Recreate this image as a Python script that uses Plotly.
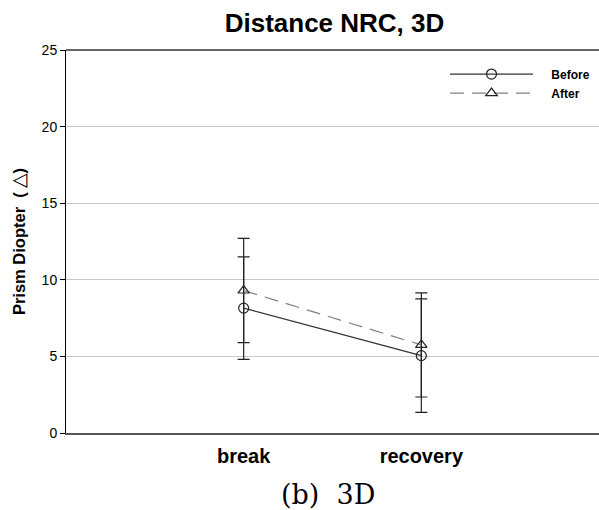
import plotly.graph_objects as go

categories = ["break", "recovery"]
before_mean = [8.15, 5.05]
before_err = [3.35, 3.7]
after_mean = [9.3, 5.75]
after_err = [3.4, 3.4]
y_ticks = [0, 5, 10, 15, 20, 25]

x_pos = [1, 2]
pad = "\u00a0" * 4

fig = go.Figure()
fig.add_trace(go.Scatter(
    x=x_pos, y=before_mean, name=pad + "<b>Before</b>", mode="lines+markers",
    line=dict(color="#333333", width=1.2),
    marker=dict(symbol="circle-open", size=10, color="#222222", line=dict(width=1.2)),
    error_y=dict(type="data", array=before_err, visible=True, color="#222222", thickness=1.2, width=6),
))
fig.add_trace(go.Scatter(
    x=x_pos, y=after_mean, name=pad + "<b>After</b>", mode="lines+markers",
    line=dict(color="#808080", width=1.2, dash="14px,8px"),
    marker=dict(symbol="triangle-up-open", size=10, color="#222222", line=dict(width=1.2)),
    error_y=dict(type="data", array=after_err, visible=True, color="#222222", thickness=1.2, width=6),
))

ytitle = ("<b>Prism Diopter\u00a0\u00a0(</b>"
          "<span style='font-size:19px'>\u2009△</span><b>)</b>")

fig.update_layout(
    width=599, height=510,
    margin=dict(l=66, r=0, t=50, b=77),
    plot_bgcolor="white", paper_bgcolor="white",
    title=dict(text="<b>Distance NRC, 3D</b>", x=334.5 / 599, xanchor="center",
               y=1 - 23 / 510, yanchor="middle",
               font=dict(family="Liberation Sans, Arial", size=26, color="black")),
    font=dict(family="Liberation Sans, Arial", color="black"),
    showlegend=True,
    legend=dict(x=(445 - 66) / 533, y=0.975, xanchor="left", yanchor="top", bgcolor="rgba(0,0,0,0)",
                font=dict(size=12, family="Liberation Sans, Arial"), itemwidth=83,
                tracegroupgap=0),
    xaxis=dict(range=[0, 3], tickmode="array", tickvals=x_pos,
               ticktext=["<b>" + c + "</b>" for c in categories],
               tickfont=dict(size=20, family="Liberation Sans, Arial"),
               showgrid=False, zeroline=False, showline=True, linecolor="#555555", linewidth=1.5,
               ticks="", ticklabelstandoff=4, mirror=False),
    yaxis=dict(range=[0, 25], tickmode="array", tickvals=y_ticks,
               tickfont=dict(size=14, family="Liberation Sans, Arial"),
               showgrid=True, gridcolor="#c8c8c8", gridwidth=1, zeroline=False,
               showline=True, linecolor="black", linewidth=1, ticks="outside", ticklen=5,
               tickcolor="black",
               title=dict(text=ytitle, font=dict(size=16.5), standoff=11)),
    shapes=[dict(type="line", xref="paper", yref="paper", x0=0, x1=1, y0=1, y1=1,
                 line=dict(color="#333333", width=1.5))],
    annotations=[dict(text="(b)  3D", xref="paper", yref="paper", x=(328 - 66) / 533,
                      y=-(494 - 433) / 383, xanchor="center", yanchor="middle", showarrow=False,
                      font=dict(family="DejaVu Serif", size=27, color="black"))],
)

fig.write_html("out.html")
